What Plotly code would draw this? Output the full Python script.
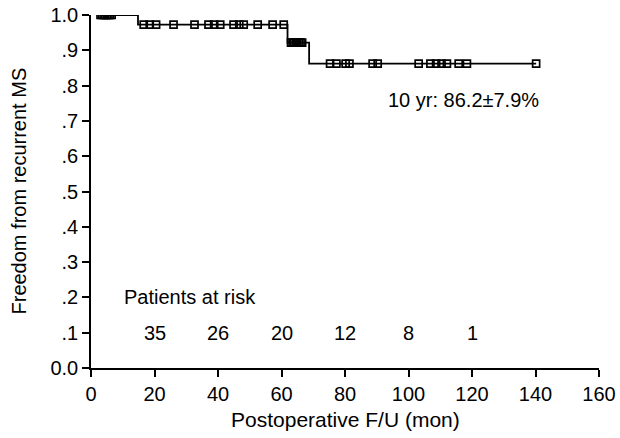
import plotly.graph_objects as go

# Kaplan-Meier step curve (time in months, survival)
step_times = [3.0, 14.8, 61.9, 68.7, 140.2]
step_surv = [1.0, 0.973, 0.922, 0.862, 0.862]

# Censored observations (time, level)
cens_t_1 = [3.0, 3.5, 4.0, 4.5, 5.0, 5.5, 6.0, 6.5]
cens_t_2 = [16.6, 18.5, 20.5, 26.0, 32.6, 37.0, 38.8, 40.7, 44.9, 46.7, 48.1, 52.5, 57.2, 60.7]
cens_t_3 = [63.0, 63.5, 64.0, 64.5, 65.0, 65.5, 66.0, 66.5]
cens_t_4 = [75.3, 77.3, 80.2, 81.4, 88.7, 90.3, 103.2, 106.9, 108.7, 110.4, 112.1, 115.8, 118.4, 140.2]
levels = [1.0, 0.973, 0.922, 0.862]

# Patients at risk
risk_times = [20, 40, 60, 80, 100, 120]
risk_counts = ["35", "26", "20", "12", "8", "1"]

x_ticks = [0, 20, 40, 60, 80, 100, 120, 140, 160]
y_ticks = [0.0, 0.1, 0.2, 0.3, 0.4, 0.5, 0.6, 0.7, 0.8, 0.9, 1.0]
y_ticktext = ["0.0", ".1", ".2", ".3", ".4", ".5", ".6", ".7", ".8", ".9", "1.0"]

FONT = "Liberation Sans, Arial, sans-serif"

fig = go.Figure()
fig.add_trace(go.Scatter(
    x=step_times, y=step_surv, mode="lines", line_shape="hv",
    line=dict(color="black", width=1.8), showlegend=False, hoverinfo="skip"))

cx, cy = [], []
for ts, lv in zip([cens_t_1, cens_t_2, cens_t_3, cens_t_4], levels):
    cx += ts
    cy += [lv] * len(ts)
fig.add_trace(go.Scatter(
    x=cx, y=cy, mode="markers",
    marker=dict(symbol="square-open", size=7, color="black", line=dict(width=1.7, color="black")),
    showlegend=False))

fig.add_annotation(x=9.8, y=0.2, text="Patients at risk", showarrow=False,
                   xanchor="left", yanchor="middle", font=dict(size=20, color="black", family=FONT))
for t, n in zip(risk_times, risk_counts):
    fig.add_annotation(x=t, y=0.1, text=n, showarrow=False, xanchor="center", yanchor="middle",
                       font=dict(size=20, color="black", family=FONT))
fig.add_annotation(x=117.3, y=0.76, text="10 yr: 86.2±7.9%", showarrow=False,
                   xanchor="center", yanchor="middle", font=dict(size=20, color="black", family=FONT))

plot_w = 620 - 91 - 21
plot_h = 438 - 15 - 70
# axis titles as paper annotations (positions given in pixels, converted to paper fractions)
fig.add_annotation(x=0.5, y=(368 - 419) / plot_h, xref="paper", yref="paper", text="Postoperative F/U (mon)",
                   showarrow=False, xanchor="center", yanchor="middle",
                   font=dict(size=21, color="black", family=FONT))
fig.add_annotation(x=(18 - 91) / plot_w, y=0.5, xref="paper", yref="paper", text="Freedom from recurrent MS",
                   showarrow=False, xanchor="center", yanchor="middle", textangle=-90,
                   font=dict(size=20, color="black", family=FONT))

fig.update_layout(
    width=620, height=438,
    margin=dict(l=91, r=21, t=15, b=70, autoexpand=False),
    paper_bgcolor="white", plot_bgcolor="white",
    font=dict(family=FONT, size=20, color="black"),
    xaxis=dict(range=[0, 160], tickvals=x_ticks, showgrid=False, zeroline=False,
               showline=True, linecolor="black", linewidth=1.5, automargin=False,
               ticks="outside", ticklen=7, tickwidth=1.5, tickcolor="black",
               ticklabeloverflow="allow", tickfont=dict(size=20)),
    yaxis=dict(range=[0, 1.0], tickvals=y_ticks, ticktext=y_ticktext, showgrid=False, zeroline=False,
               showline=True, linecolor="black", linewidth=1.5, automargin=False,
               ticks="outside", ticklen=7, tickwidth=1.5, tickcolor="black",
               ticklabeloverflow="allow", tickfont=dict(size=20)),
)
fig.write_html("out.html", config={"displayModeBar": False},
               post_script="document.body.style.margin='0';document.body.style.padding='0';")
